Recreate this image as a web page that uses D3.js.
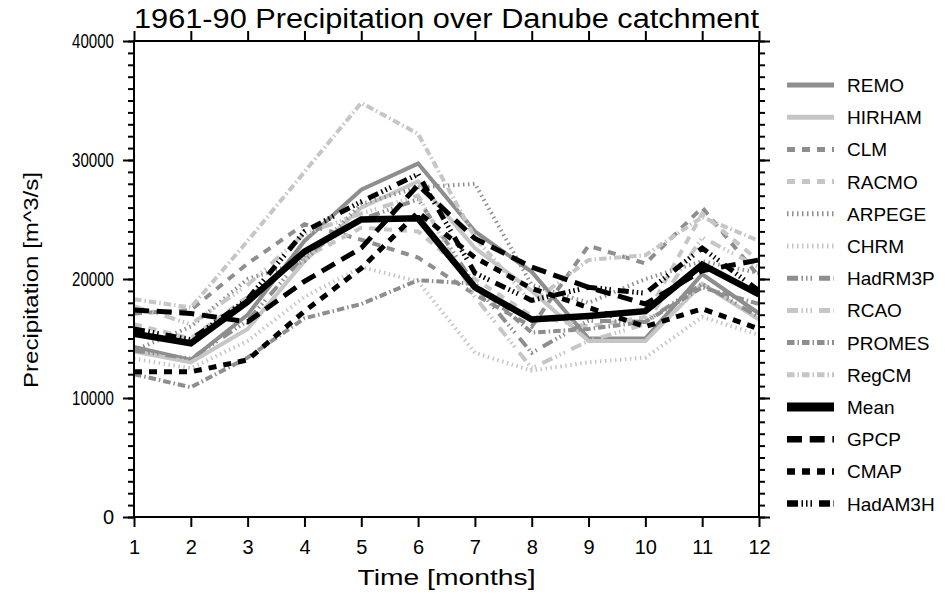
<!DOCTYPE html>
<html>
<head>
<meta charset="utf-8">
<script src="https://cdn.jsdelivr.net/npm/d3@7"></script>
<style>
  body { margin: 0; background: #fff; }
  svg text { font-family: 'Liberation Sans', Arial, sans-serif; fill: #000; }
</style>
</head>
<body>
<div id="chart"></div>
<script>
// Monthly mean precipitation 1961-90 over the Danube catchment [m^3/s]
const months  = [1, 2, 3, 4, 5, 6, 7, 8, 9, 10, 11, 12];
const remo    = [14300, 13200, 17000, 23200, 27500, 29700, 24000, 20600, 15000, 15000, 20400, 17100];
const hirham  = [13900, 13000, 15800, 21500, 26000, 28200, 22600, 19000, 14800, 14800, 19600, 16600];
const clm     = [17100, 17400, 21300, 24600, 23300, 21800, 18700, 16000, 22800, 21300, 26000, 20200];
const racmo   = [16200, 15000, 18500, 21800, 24300, 24000, 20000, 16900, 16000, 16800, 25500, 21500];
const arpege  = [14000, 16000, 20000, 21500, 26300, 27700, 28000, 19500, 18000, 20000, 21500, 20500];
const chrm    = [13300, 12500, 14800, 18500, 21000, 19800, 13800, 12300, 13000, 13400, 16800, 15300];
const hadrm3p = [14000, 13300, 16500, 22000, 25000, 26700, 19500, 13800, 16500, 16400, 19600, 16800];
const rcao    = [17700, 16200, 19500, 23800, 25500, 27000, 18500, 12500, 14800, 16200, 23500, 21000];
const promes  = [12000, 10900, 13400, 16700, 17900, 19900, 19600, 15500, 15800, 16400, 19300, 17900];
const regcm   = [18300, 17600, 23200, 29000, 34800, 32200, 23500, 18000, 21600, 22000, 25200, 23200];
const mean    = [15400, 14600, 18100, 22300, 25000, 25100, 19300, 16600, 16900, 17300, 21200, 18700];
const gpcp    = [17400, 17100, 16400, 19800, 22600, 27900, 23400, 21000, 19300, 17900, 20700, 21600];
const cmap    = [12200, 12200, 13200, 17300, 20900, 25600, 21800, 19200, 17600, 16000, 17500, 15800];
const hadam3h = [15800, 14900, 18300, 24000, 26500, 28800, 20500, 18200, 19300, 18800, 22600, 19000];

const seriesNames  = ['REMO', 'HIRHAM', 'CLM', 'RACMO', 'ARPEGE', 'CHRM', 'HadRM3P', 'RCAO',
                      'PROMES', 'RegCM', 'Mean', 'GPCP', 'CMAP', 'HadAM3H'];
const seriesValues = [remo, hirham, clm, racmo, arpege, chrm, hadrm3p, rcao,
                      promes, regcm, mean, gpcp, cmap, hadam3h];
const yTickValues  = [0, 10000, 20000, 30000, 40000];

// line look per series (colour, dash, width in plot / legend)
const DARK = '#8e8e8e', LIGHT = '#c6c6c6';
const DASH = '8,7', DOT = '1.5,3.5', DASHDOT = '7.5,3,1.5,3',
      DASH3DOT = '11,3.5,1.5,3,1.5,3,1.5,7', LONGDASH = '15,7.7';
const lineStyle = {
  'REMO':    {color: DARK,  dash: null,     w: 4,   lw: 5},
  'HIRHAM':  {color: LIGHT, dash: null,     w: 4,   lw: 5},
  'CLM':     {color: DARK,  dash: DASH,     w: 4,   lw: 5},
  'RACMO':   {color: LIGHT, dash: DASH,     w: 4,   lw: 5},
  'ARPEGE':  {color: DARK,  dash: DOT,      w: 4,   lw: 5},
  'CHRM':    {color: LIGHT, dash: DOT,      w: 4,   lw: 5},
  'HadRM3P': {color: DARK,  dash: DASH3DOT, w: 4,   lw: 5},
  'RCAO':    {color: LIGHT, dash: DASH3DOT, w: 4,   lw: 5},
  'PROMES':  {color: DARK,  dash: DASHDOT,  w: 4,   lw: 5},
  'RegCM':   {color: LIGHT, dash: DASHDOT,  w: 4,   lw: 5},
  'Mean':    {color: '#000', dash: null,    w: 6.5, lw: 9},
  'GPCP':    {color: '#000', dash: LONGDASH, w: 5,  lw: 6.5},
  'CMAP':    {color: '#000', dash: DASH,    w: 5,   lw: 6.5},
  'HadAM3H': {color: '#000', dash: DASH3DOT, w: 5,  lw: 6.5}
};

class PrecipChart {

  constructor(_config, _data) {
    this.config = {
      parentElement: _config.parentElement,
      containerWidth: _config.containerWidth || 945,
      containerHeight: _config.containerHeight || 594,
      margin: _config.margin || {top: 41, right: 186, bottom: 77, left: 134},
      legendX: 787,
      legendY: 85,
      legendStep: 32.2,
      legendLine: 47
    };
    this.data = _data;
    this.initVis();
  }

  initVis() {
    let vis = this;
    const m = vis.config.margin;

    vis.width = vis.config.containerWidth - m.left - m.right;
    vis.height = vis.config.containerHeight - m.top - m.bottom;

    vis.svg = d3.select(vis.config.parentElement).append('svg')
        .attr('width', vis.config.containerWidth)
        .attr('height', vis.config.containerHeight);

    vis.xScale = d3.scaleLinear().domain([1, 12]).range([0, vis.width]);
    vis.yScale = d3.scaleLinear().domain([0, 40000]).range([vis.height, 0]);

    vis.chart = vis.svg.append('g')
        .attr('transform', `translate(${m.left},${m.top})`);

    vis.line = d3.line()
        .x((d, i) => vis.xScale(months[i]))
        .y(d => vis.yScale(d));

    vis.renderVis();
  }

  renderVis() {
    let vis = this;

    // data lines
    vis.chart.append('g').selectAll('.series')
      .data(vis.data)
      .join('path')
        .attr('class', 'series')
        .attr('d', d => vis.line(d.values))
        .attr('fill', 'none')
        .attr('stroke', d => lineStyle[d.name].color)
        .attr('stroke-width', d => lineStyle[d.name].w)
        .attr('stroke-dasharray', d => lineStyle[d.name].dash);

    // axes: major ticks outward on all four sides, minor on y
    const fmt = d3.format('d');
    const axes = [
      d3.axisBottom(vis.xScale).tickValues(months).tickSize(10).tickPadding(13).tickFormat(fmt),
      d3.axisTop(vis.xScale).tickValues(months).tickSize(10).tickFormat(''),
      d3.axisLeft(vis.yScale).tickValues(yTickValues).tickSize(11).tickPadding(9).tickFormat(fmt),
      d3.axisRight(vis.yScale).tickValues(yTickValues).tickSize(11).tickFormat(''),
      d3.axisLeft(vis.yScale).ticks(40).tickSize(6).tickFormat(''),
      d3.axisRight(vis.yScale).ticks(40).tickSize(6).tickFormat('')
    ];
    const shifts = [[0, vis.height], [0, 0], [0, 0], [vis.width, 0], [0, 0], [vis.width, 0]];
    axes.forEach((ax, i) => {
      const g = vis.chart.append('g')
          .attr('transform', `translate(${shifts[i][0]},${shifts[i][1]})`)
          .call(ax.tickSizeOuter(0));
      g.select('.domain').remove();
      g.selectAll('line').attr('stroke', '#000').attr('stroke-width', 2);
      g.selectAll('text')
          .attr('font-family', null)
          .style('font-size', '20px');
    });

    // y tick labels are set in a narrow face in the original
    vis.chart.selectAll('text')
        .filter(function() { return this.textContent.length > 2; })
        .attr('textLength', function() { return this.textContent.length * 8.4; })
        .attr('lengthAdjust', 'spacingAndGlyphs');

    vis.chart.append('rect')
        .attr('width', vis.width)
        .attr('height', vis.height)
        .attr('fill', 'none')
        .attr('stroke', '#000')
        .attr('stroke-width', 2);

    // titles
    vis.svg.append('text')
        .attr('x', 134).attr('y', 28)
        .attr('textLength', 625)
        .attr('lengthAdjust', 'spacingAndGlyphs')
        .style('font-size', '27px')
        .text('1961-90 Precipitation over Danube catchment');

    vis.svg.append('text')
        .attr('x', vis.config.margin.left + vis.width / 2).attr('y', 585)
        .attr('text-anchor', 'middle')
        .attr('textLength', 178)
        .attr('lengthAdjust', 'spacingAndGlyphs')
        .style('font-size', '22px')
        .text('Time [months]');

    vis.svg.append('text')
        .attr('transform', 'translate(38,280) rotate(-90)')
        .attr('text-anchor', 'middle')
        .attr('textLength', 216)
        .attr('lengthAdjust', 'spacingAndGlyphs')
        .style('font-size', '20px')
        .text('Precipitation [m^3/s]');

    // legend
    const legend = vis.svg.append('g').selectAll('.legend-item')
      .data(vis.data)
      .join('g')
        .attr('class', 'legend-item')
        .attr('transform', (d, i) => `translate(${vis.config.legendX},${vis.config.legendY + i * vis.config.legendStep})`);

    legend.append('line')
        .attr('x1', 0).attr('x2', vis.config.legendLine)
        .attr('stroke', d => lineStyle[d.name].color)
        .attr('stroke-width', d => lineStyle[d.name].lw)
        .attr('stroke-dasharray', d => lineStyle[d.name].dash);

    legend.append('text')
        .attr('x', 60).attr('y', 7)
        .style('font-size', '19px')
        .text(d => d.name);
  }
}

const data = seriesNames.map((name, i) => ({name: name, values: seriesValues[i]}));
new PrecipChart({parentElement: '#chart'}, data);
</script>
</body>
</html>
